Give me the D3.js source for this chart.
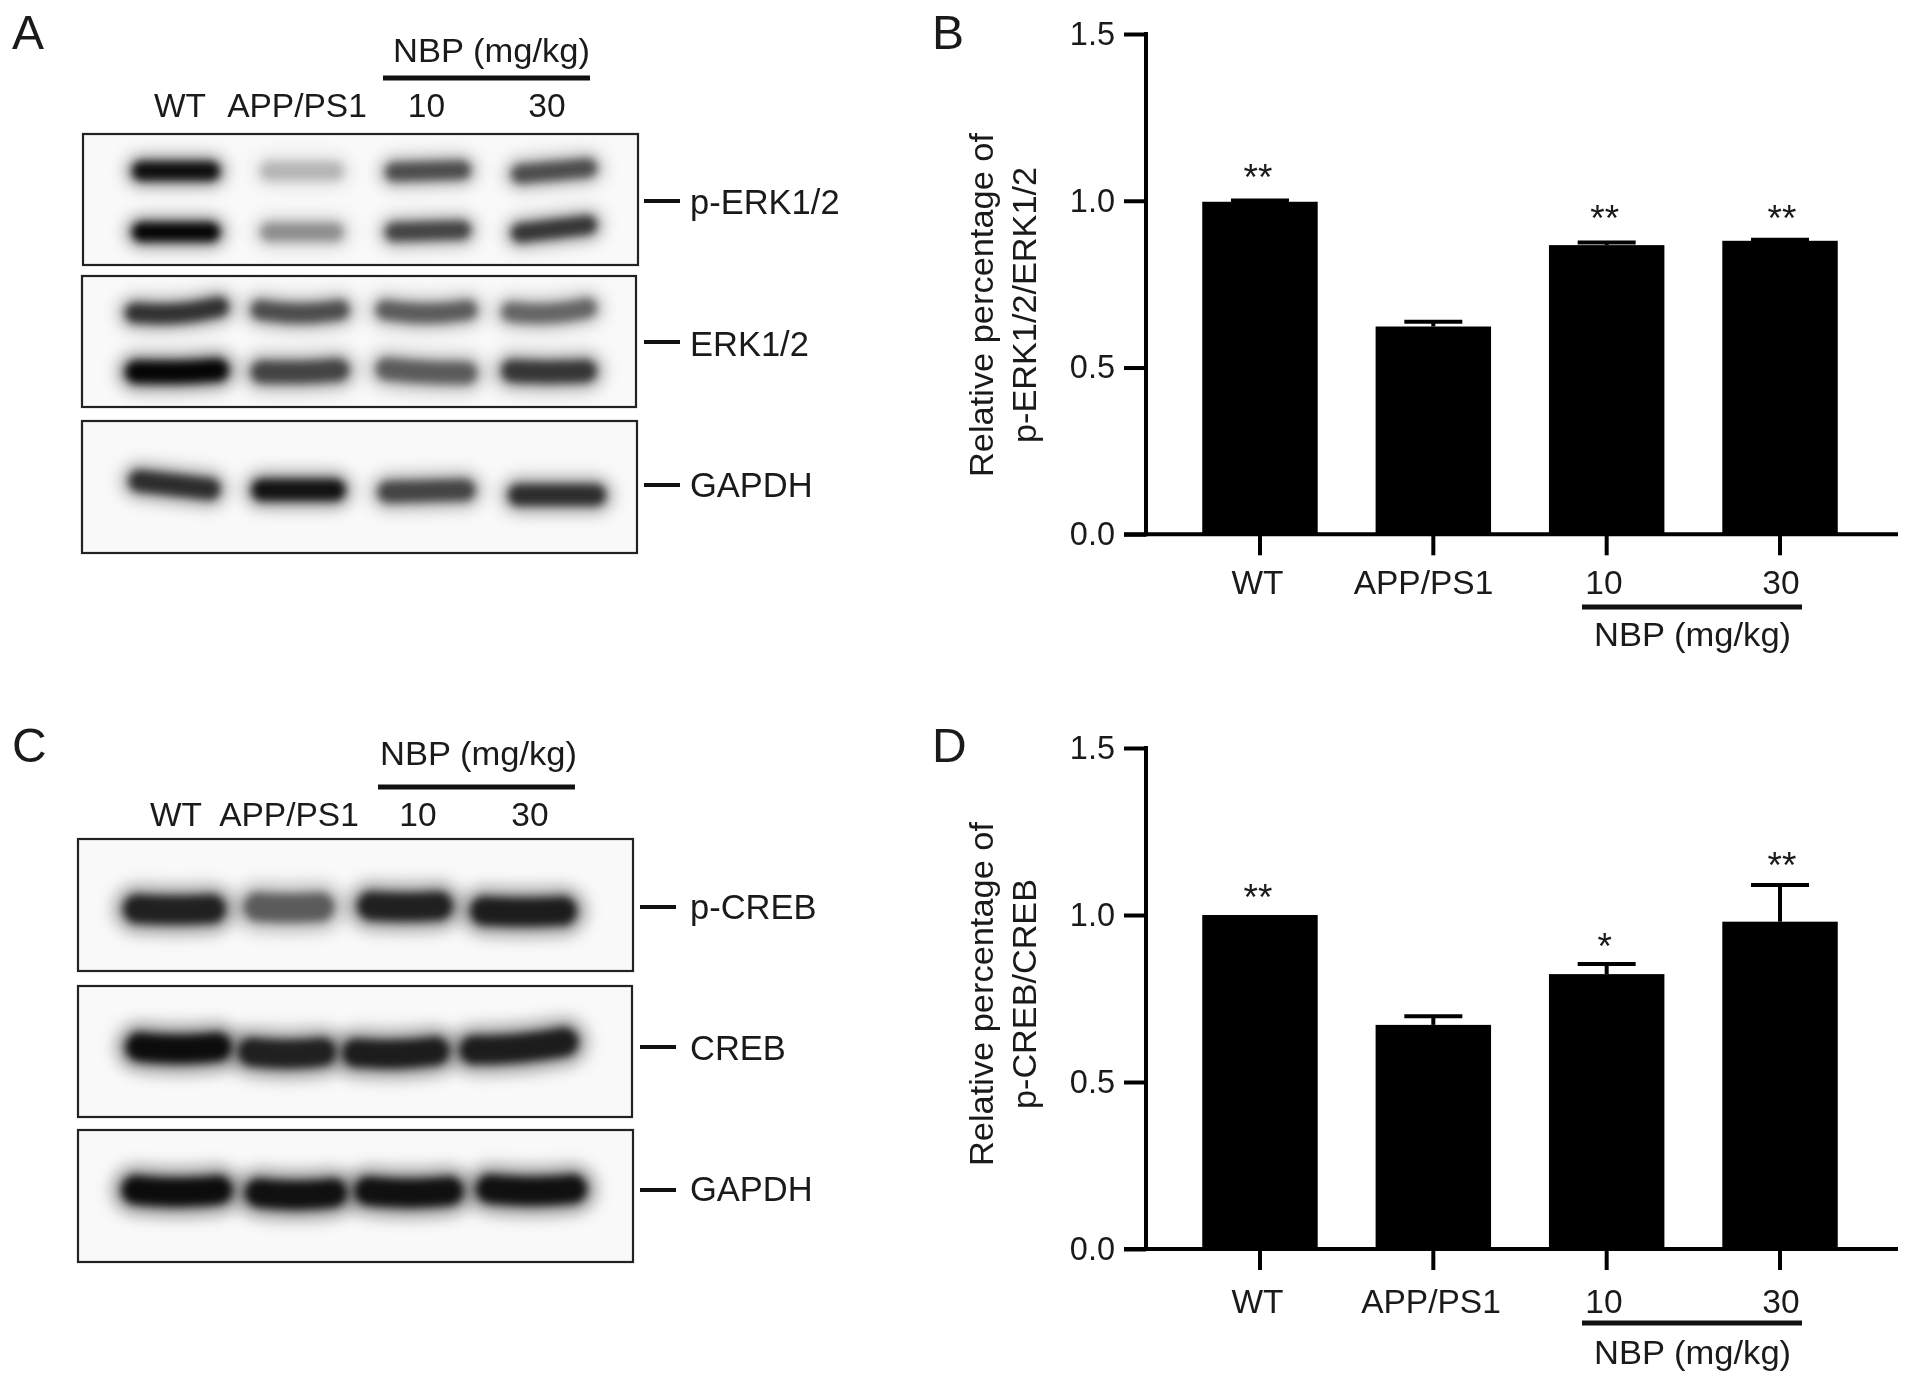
<!DOCTYPE html>
<html><head><meta charset="utf-8">
<script src="https://cdnjs.cloudflare.com/ajax/libs/d3/7.9.0/d3.min.js"></script>
<style>html,body{margin:0;padding:0;background:#fff}svg{display:block}text{font-family:"Liberation Sans",Arial,sans-serif;fill:#1a1a1a}</style>
</head><body>
<svg id="c" width="1913" height="1386"></svg>
<script>
// ---------- chart values ----------
const groups = ["WT","APP/PS1","10","30"];
const yTicks = [0,0.5,1.0,1.5];
const meanB = [0.997,0.623,0.867,0.880];
const errTopB = [1.001,0.637,0.875,0.883];
const starsB = ["**","","**","**"];
const starLevelB = [1.088,null,0.965,0.965];
const meanD = [1.0,0.671,0.823,0.980];
const errTopD = [null,0.697,0.853,1.090];
const starsD = ["**","","*","**"];
const starLevelD = [1.072,null,0.925,1.168];
// band intensities read from the blots (0 = blank, 1 = black)
const pErkUpper = [0.95,0.26,0.66,0.66];
const pErkLower = [1.0,0.40,0.70,0.76];
const erkUpper = [0.78,0.66,0.60,0.56];
const erkLower = [1.0,0.70,0.60,0.76];
const gapdhA = [0.80,0.93,0.70,0.80];
const pCreb = [0.86,0.60,0.86,0.88];
const creb = [0.96,0.86,0.88,0.88];
const gapdhC = [0.96,0.94,0.94,0.94];

// ---------- layout ----------
const svg = d3.select("#c");
const defs = svg.append("defs");
[["blurCore",4],["blurHalo",8]].forEach(([id,s])=>{
  defs.append("filter").attr("id",id).attr("filterUnits","userSpaceOnUse")
    .attr("x",0).attr("y",0).attr("width",1913).attr("height",1386)
    .append("feGaussianBlur").attr("stdDeviation",s);
});
const FS = 33.5;
function text(g,x,y,s,o={}){
  const t=g.append("text").attr("x",x).attr("y",y).text(s).attr("font-size",o.size||FS).attr("text-anchor",o.anchor||"start");
  if(o.rot!=null) t.attr("transform",`rotate(${o.rot} ${x} ${y})`);
  if(o.len) t.attr("textLength",o.len).attr("lengthAdjust","spacingAndGlyphs");
  return t;
}
function rule(g,x1,x2,y,w){g.append("line").attr("x1",x1).attr("x2",x2).attr("y1",y).attr("y2",y).attr("stroke","#111").attr("stroke-width",w);}

// letters
[["A",12,49],["B",932,49],["C",12,762],["D",932,762]].forEach(([s,x,y])=>text(svg,x,y,s,{size:48}));

// ---------- blots ----------
const line = d3.line().curve(d3.curveBasis);
function blot(box,rows,mark){
  const g=svg.append("g");
  const clipId="clip"+box.y;
  defs.append("clipPath").attr("id",clipId).append("rect").attr("x",box.x).attr("y",box.y).attr("width",box.w).attr("height",box.h);
  g.append("rect").attr("x",box.x).attr("y",box.y).attr("width",box.w).attr("height",box.h).attr("fill","#f9f9f9");
  const inner=g.append("g").attr("clip-path",`url(#${clipId})`).style("isolation","isolate");
  rows.forEach(r=>{
    r.values.forEach((v,i)=>{
      const cx=r.cx[i], w=r.w[i], th=r.th, dy=(r.dy?r.dy[i]:0), tilt=(r.tilt?r.tilt[i]:0), sag=r.sag||0;
      const half=w/2-th/2+3;
      const pts=[[cx-half,r.y+dy-tilt],[cx-half*.45,r.y+dy+sag-tilt*.45],[cx,r.y+dy+sag*1.2],[cx+half*.45,r.y+dy+sag+tilt*.45],[cx+half,r.y+dy+tilt]];
      inner.append("path").attr("d",line(pts)).attr("fill","none").attr("stroke","#000").attr("stroke-linecap","round")
        .attr("stroke-width",th*1.5).attr("stroke-opacity",v*.42).attr("filter","url(#blurHalo)").style("mix-blend-mode","multiply");
      inner.append("path").attr("d",line(pts)).attr("fill","none").attr("stroke","#000").attr("stroke-linecap","round")
        .attr("stroke-width",th*.9).attr("stroke-opacity",Math.pow(v,1.25)*.97).attr("filter","url(#blurCore)").style("mix-blend-mode","multiply");
    });
  });
  g.append("rect").attr("x",box.x).attr("y",box.y).attr("width",box.w).attr("height",box.h).attr("fill","none").attr("stroke","#222").attr("stroke-width",2.2);
  rule(g,mark.x1,mark.x2,mark.y,4);
  text(g,690,mark.base,mark.label,{size:34.5});
}
const cxA1=[176,302,428,554], wA1=[84,80,82,82];
blot({x:83,y:134,w:555,h:131},[
  {values:pErkUpper,cx:cxA1,w:wA1,y:171,th:21,tilt:[0,0,-1,-3]},
  {values:pErkLower,cx:cxA1,w:wA1,y:231,th:21,dy:[1,1,0,-2],tilt:[0,0,-1,-4]}
],{x1:644,x2:680,y:201,base:214,label:"p-ERK1/2"});
const cxA2=[177,300,426.5,549], wA2=[100,95,98,92];
blot({x:82,y:276,w:554,h:131},[
  {values:erkUpper,cx:cxA2,w:wA2,y:310,th:22,sag:3,tilt:[-3,0,0,-2]},
  {values:erkLower,cx:cxA2,w:wA2,y:371,th:25,sag:1,tilt:[-1,-1,2,0]}
],{x1:644,x2:680,y:342,base:356,label:"ERK1/2"});
blot({x:82,y:421,w:555,h:132},[
  {values:gapdhA,cx:[174.5,298.5,426.5,557],w:[88,90,94,94],y:486,th:24,dy:[-1,4,5,9],tilt:[4,0,-1,0]}
],{x1:644,x2:680,y:485,base:497,label:"GAPDH"});
blot({x:78,y:839,w:555,h:132},[
  {values:pCreb,cx:[174.5,289,405,523.5],w:[100,88,93,104],y:908,th:32,dy:[1,-1,-2,3],sag:1}
],{x1:640,x2:676,y:907,base:919,label:"p-CREB"});
blot({x:78,y:986,w:554,h:131},[
  {values:creb,cx:[178.5,287,396,519],w:[103,95,104,116],y:1049,th:32,dy:[-2,3,3,-3],sag:2,tilt:[0,0,-1,-4]}
],{x1:640,x2:676,y:1047,base:1060,label:"CREB"});
blot({x:78,y:1130,w:555,h:132},[
  {values:gapdhC,cx:[177,296,409,531.5],w:[108,99,106,108],y:1190,th:32,dy:[0,3,1,-1],sag:2}
],{x1:640,x2:676,y:1190,base:1201,label:"GAPDH"});

// blot headers
function header(h){
  text(svg,h.nbpX,h.nbpY,"NBP (mg/kg)",{len:h.nbpLen});
  rule(svg,h.lx1,h.lx2,h.ly,5);
  groups.forEach((s,i)=>text(svg,h.cx[i],h.base,s,{anchor:"middle"}));
}
header({nbpX:393,nbpY:62,nbpLen:197,lx1:383,lx2:590,ly:78,cx:[180,297,426.5,547],base:117});
header({nbpX:380,nbpY:765,nbpLen:197,lx1:378,lx2:575,ly:787,cx:[176,289,418,530],base:826});

// ---------- bar charts ----------
const starShift=[-2,0,-2,2];
function bars(p){
  const g=svg.append("g");
  const x=d3.scaleBand().domain(groups).range([1173.3,1866.7]).paddingInner(.334).paddingOuter(.167);
  const y=d3.scaleLinear().domain([0,1.5]).range([p.y0,p.y1]);
  const c=d=>x(d)+x.bandwidth()/2;
  g.selectAll(".bar").data(groups).join("rect").attr("x",d=>x(d)).attr("width",x.bandwidth())
    .attr("y",(d,i)=>y(p.mean[i])).attr("height",(d,i)=>y(0)-y(p.mean[i])).attr("fill","#000");
  const withErr=groups.filter((d,i)=>p.err[i]!=null);
  const errOf=d=>p.err[groups.indexOf(d)], meanOf=d=>p.mean[groups.indexOf(d)];
  const eb=g.selectAll(".eb").data(withErr).join("g");
  eb.append("line").attr("x1",c).attr("x2",c).attr("y1",d=>y(meanOf(d))).attr("y2",d=>y(errOf(d))).attr("stroke","#000").attr("stroke-width",4);
  eb.append("line").attr("x1",d=>c(d)-29).attr("x2",d=>c(d)+29).attr("y1",d=>y(errOf(d))).attr("y2",d=>y(errOf(d))).attr("stroke","#000").attr("stroke-width",4);
  g.selectAll(".st").data(groups.filter((d,i)=>p.stars[i])).join("text")
    .attr("x",d=>c(d)+starShift[groups.indexOf(d)]).attr("y",d=>y(p.level[groups.indexOf(d)])+19).attr("text-anchor","middle").attr("font-size",37)
    .text(d=>p.stars[groups.indexOf(d)]);
  const ax=g.append("g").attr("transform","translate(1146,0)")
    .call(d3.axisLeft(y).tickValues(yTicks).tickSize(22).tickPadding(9).tickFormat(d3.format(".1f")));
  ax.selectAll("line").attr("stroke","#000").attr("stroke-width",4);
  ax.select(".domain").attr("d",`M0,${p.y1-2}V${p.y0+2}`).attr("stroke","#000").attr("stroke-width",4);
  ax.selectAll("text").attr("font-size",32.5).attr("font-family",'"Liberation Sans",Arial,sans-serif').attr("fill","#1a1a1a");
  const xa=g.append("g").attr("transform",`translate(0,${p.y0})`).call(d3.axisBottom(x).tickSize(21).tickFormat(""));
  xa.selectAll("line").attr("stroke","#000").attr("stroke-width",4);
  xa.select(".domain").attr("d","M1124,0H1898").attr("stroke","#000").attr("stroke-width",4);
  text(g,1257.5,p.labBase,groups[0],{anchor:"middle"});
  text(g,p.appX,p.labBase,groups[1],{anchor:"middle"});
  text(g,1604,p.labBase,groups[2],{anchor:"middle"});
  text(g,1781,p.labBase,groups[3],{anchor:"middle"});
  rule(g,1582,1802,p.ruleY,5);
  text(g,1692.6,p.nbpBase,"NBP (mg/kg)",{anchor:"middle",len:197});
  text(g,993,p.cy,"Relative percentage of",{anchor:"middle",rot:-90,len:344});
  text(g,1036,p.cy,p.yLine2,{anchor:"middle",rot:-90,len:p.y2Len});
}
bars({y0:534.3,y1:34,mean:meanB,err:errTopB,stars:starsB,level:starLevelB,labBase:594,appX:1423.5,ruleY:607,nbpBase:646,cy:305,yLine2:"p-ERK1/2/ERK1/2",y2Len:276});
bars({y0:1249,y1:748,mean:meanD,err:errTopD,stars:starsD,level:starLevelD,labBase:1313,appX:1431,ruleY:1323,nbpBase:1364,cy:994,yLine2:"p-CREB/CREB",y2Len:230});
</script>
</body></html>
